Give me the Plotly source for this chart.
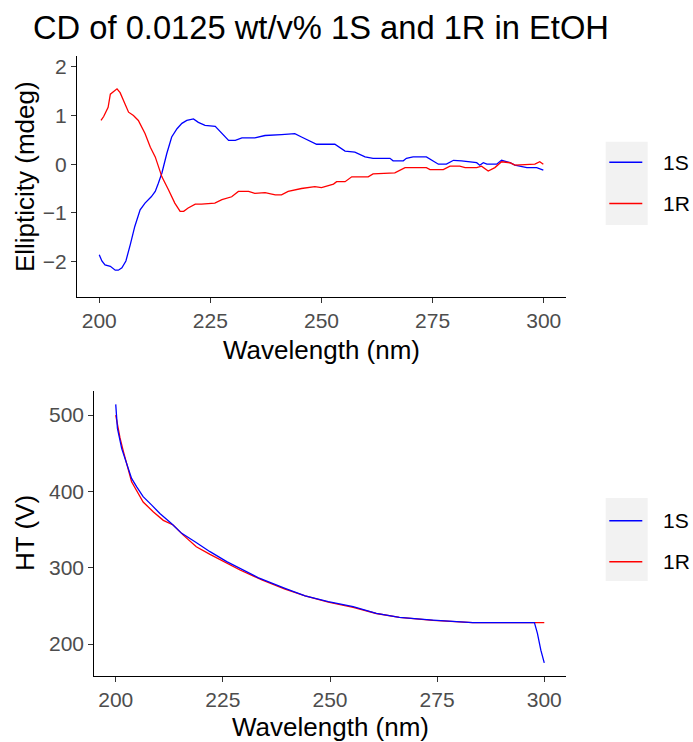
import plotly.graph_objects as go

# ---------------- data ----------------
cd_1s_wl = [200, 200.6, 201.3, 202.5, 203.6, 204.3, 205.1, 206, 207, 208, 209.2, 210.3, 211.7, 212.6,
            213.3, 214.1, 215.2, 216.3, 217.5, 218.6, 219.7, 221.2, 222.3, 223.8, 226.1, 227.6, 229.1,
            230.6, 232.1, 235, 237.3, 241, 244, 245.5, 247, 248.9, 253, 255.3, 257.5, 259.8, 261.6,
            265.4, 266.1, 268.4, 269.1, 270.6, 273.6, 274.8, 276.3, 278.1, 279.7, 281.5, 284.9, 285.6,
            286.4, 287.2, 289.4, 290.5, 292.4, 293.5, 296.2, 298.4, 299.9]
cd_1s = [-1.86, -1.99, -2.07, -2.10, -2.18, -2.18, -2.13, -1.99, -1.65, -1.28, -0.94, -0.80, -0.67, -0.56,
         -0.39, -0.18, 0.22, 0.56, 0.73, 0.84, 0.90, 0.93, 0.86, 0.80, 0.78, 0.63, 0.49,
         0.49, 0.54, 0.54, 0.59, 0.61, 0.63, 0.56, 0.49, 0.41, 0.41, 0.27, 0.25, 0.15, 0.12,
         0.12, 0.07, 0.07, 0.12, 0.15, 0.15, 0.08, 0.0, 0.0, 0.08, 0.07, 0.03, -0.02,
         0.03, 0.0, 0.0, 0.08, 0.03, -0.02, -0.07, -0.07, -0.12]

cd_1r_wl = [200.4, 201, 202, 202.5, 204, 204.7, 205.8, 206.6, 207.7, 208.8, 210.3, 211.5, 212.6, 213.3,
            214.1, 215.6, 217, 218.2, 219, 220, 221.6, 223, 226, 227.6, 229.8, 231.3, 233.6, 235,
            237.3, 239.6, 241, 242.5, 244, 245.5, 248.5, 250, 252.7, 253.4, 255.3, 256.8, 260.5,
            261.6, 266.5, 268.8, 273.6, 274.4, 277.4, 278.9, 281.1, 282.3, 284.9, 286, 287.5, 289,
            290.5, 292.4, 293.5, 298, 299.1, 299.9]
cd_1r = [0.90, 0.98, 1.17, 1.44, 1.55, 1.47, 1.24, 1.07, 1.0, 0.90, 0.63, 0.35, 0.15, -0.05,
         -0.26, -0.53, -0.80, -0.97, -0.97, -0.90, -0.82, -0.82, -0.80, -0.73, -0.67, -0.56, -0.56, -0.60,
         -0.585, -0.63, -0.63, -0.56, -0.53, -0.50, -0.46, -0.48, -0.41, -0.36, -0.36, -0.26, -0.26,
         -0.20, -0.18, -0.07, -0.07, -0.11, -0.11, -0.04, -0.04, -0.07, -0.07, -0.04, -0.14, -0.07,
         0.05, 0.03, -0.02, 0.0, 0.05, 0.0]

ht_1s_wl = [200, 200.4, 201.4, 202.6, 203.7, 204.9, 206.4, 208.4, 210.3, 213, 215.4, 218.5, 222, 225.9,
            229.7, 233.2, 239.5, 244.2, 249.6, 255.4, 260.8, 266.2, 274, 283.3, 297.7, 298.4, 299.2, 300]
ht_1s = [514, 482.5, 456, 434.5, 417, 406, 393, 382, 371, 358, 345, 334, 321, 308,
         297, 287, 273, 263, 255.5, 249, 240, 235, 231.3, 228, 228, 214, 192, 175.4]

ht_1r_wl = [200, 200.5, 201, 201.8, 203.7, 206.4, 208.8, 211.1, 213.4, 215.7, 218.8, 222, 225.9, 229,
            234.1, 239.5, 244.2, 249.6, 255.4, 260.8, 266.2, 274, 283.3, 297.7, 300]
ht_1r = [500, 484, 470, 452, 412.6, 386, 373, 362, 356, 343, 327.5, 317.5, 305.6, 297,
         284, 272, 263, 255, 248, 240, 235, 231, 228, 228, 228]

series_names = ["1S", "1R"]
series_colors = ["#0000FF", "#FF0000"]
x_ticks = [200, 225, 250, 275, 300]
cd_ticks = [-2, -1, 0, 1, 2]
ht_ticks = [200, 300, 400, 500]

title_text = "CD of 0.0125 wt/v% 1S and 1R in EtOH"
x_title = "Wavelength (nm)"
cd_title = "Ellipticity (mdeg)"
ht_title = "HT (V)"

# ---------------- figure ----------------
W, H = 693, 742
FONT = "Liberation Sans, Arial, sans-serif"


def px_x(p):
    return p / W


def px_y(p):
    return 1 - p / H


fig = go.Figure()
lw = 1.3
fig.add_trace(go.Scatter(x=cd_1s_wl, y=cd_1s, mode="lines", name=series_names[0],
                         line=dict(color=series_colors[0], width=lw), xaxis="x", yaxis="y"))
fig.add_trace(go.Scatter(x=cd_1r_wl, y=cd_1r, mode="lines", name=series_names[1],
                         line=dict(color=series_colors[1], width=lw), xaxis="x", yaxis="y"))
fig.add_trace(go.Scatter(x=ht_1r_wl, y=ht_1r, mode="lines", name=series_names[1],
                         line=dict(color=series_colors[1], width=lw), xaxis="x2", yaxis="y2"))
fig.add_trace(go.Scatter(x=ht_1s_wl, y=ht_1s, mode="lines", name=series_names[0],
                         line=dict(color=series_colors[0], width=lw), xaxis="x2", yaxis="y2"))

axis_common = dict(showgrid=False, zeroline=False, showline=True, linecolor="#000000", linewidth=1.1,
                   ticks="outside", ticklen=5, tickwidth=1.1, tickcolor="#333333",
                   tickfont=dict(family=FONT, size=21, color="#4D4D4D"))

top = (56, 296.7)
bot = (391, 675.7)
fig.update_layout(
    width=W, height=H, margin=dict(l=0, r=0, t=0, b=0),
    paper_bgcolor="white", plot_bgcolor="white", showlegend=False,
    xaxis=dict(domain=[px_x(77), px_x(566)], range=[195, 305], tickvals=x_ticks, anchor="y", **axis_common),
    yaxis=dict(domain=[px_y(top[1]), px_y(top[0])], range=[-2.725, 2.225], tickvals=cd_ticks, anchor="x",
               **axis_common),
    xaxis2=dict(domain=[px_x(94.3), px_x(565.7)], range=[195, 305], tickvals=x_ticks, anchor="y2",
                **axis_common),
    yaxis2=dict(domain=[px_y(bot[1]), px_y(bot[0])], range=[158.5, 531.5], tickvals=ht_ticks, anchor="x2",
                **axis_common),
)

ann = []
ann.append(dict(text=title_text, x=px_x(31), y=px_y(27), xref="paper", yref="paper", xanchor="left",
                yanchor="middle", showarrow=False, font=dict(family=FONT, size=32.7, color="#000000")))
ann.append(dict(text=x_title, x=px_x(321.7), y=px_y(350.3), xref="paper", yref="paper", xanchor="center",
                yanchor="middle", showarrow=False, font=dict(family=FONT, size=26, color="#000000")))
ann.append(dict(text=x_title, x=px_x(330), y=px_y(727), xref="paper", yref="paper", xanchor="center",
                yanchor="middle", showarrow=False, font=dict(family=FONT, size=26, color="#000000")))
ann.append(dict(text=cd_title, x=px_x(25.7), y=px_y(176.4), xref="paper", yref="paper", xanchor="center",
                yanchor="middle", textangle=-90, showarrow=False,
                font=dict(family=FONT, size=26, color="#000000")))
ann.append(dict(text=ht_title, x=px_x(25.7), y=px_y(533.3), xref="paper", yref="paper", xanchor="center",
                yanchor="middle", textangle=-90, showarrow=False,
                font=dict(family=FONT, size=26, color="#000000")))

shapes = []
legends = [((141.7, 225), (162.3, 203.5)), ((498, 581), (520.7, 561.7))]
for (b0, b1), ys in legends:
    shapes.append(dict(type="rect", xref="paper", yref="paper", x0=px_x(605.7), x1=px_x(647.7),
                       y0=px_y(b1), y1=px_y(b0), fillcolor="#F2F2F2", line=dict(width=0), layer="below"))
    for name, col, yy in zip(series_names, series_colors, ys):
        shapes.append(dict(type="line", xref="paper", yref="paper", x0=px_x(609.3), x1=px_x(642.3),
                           y0=px_y(yy), y1=px_y(yy), line=dict(color=col, width=1.4)))
        ann.append(dict(text=name, x=px_x(661), y=px_y(yy), xref="paper", yref="paper", xanchor="left",
                        yanchor="middle", showarrow=False, font=dict(family=FONT, size=21, color="#000000")))

fig.update_layout(annotations=ann, shapes=shapes)
fig.write_html("out.html")
